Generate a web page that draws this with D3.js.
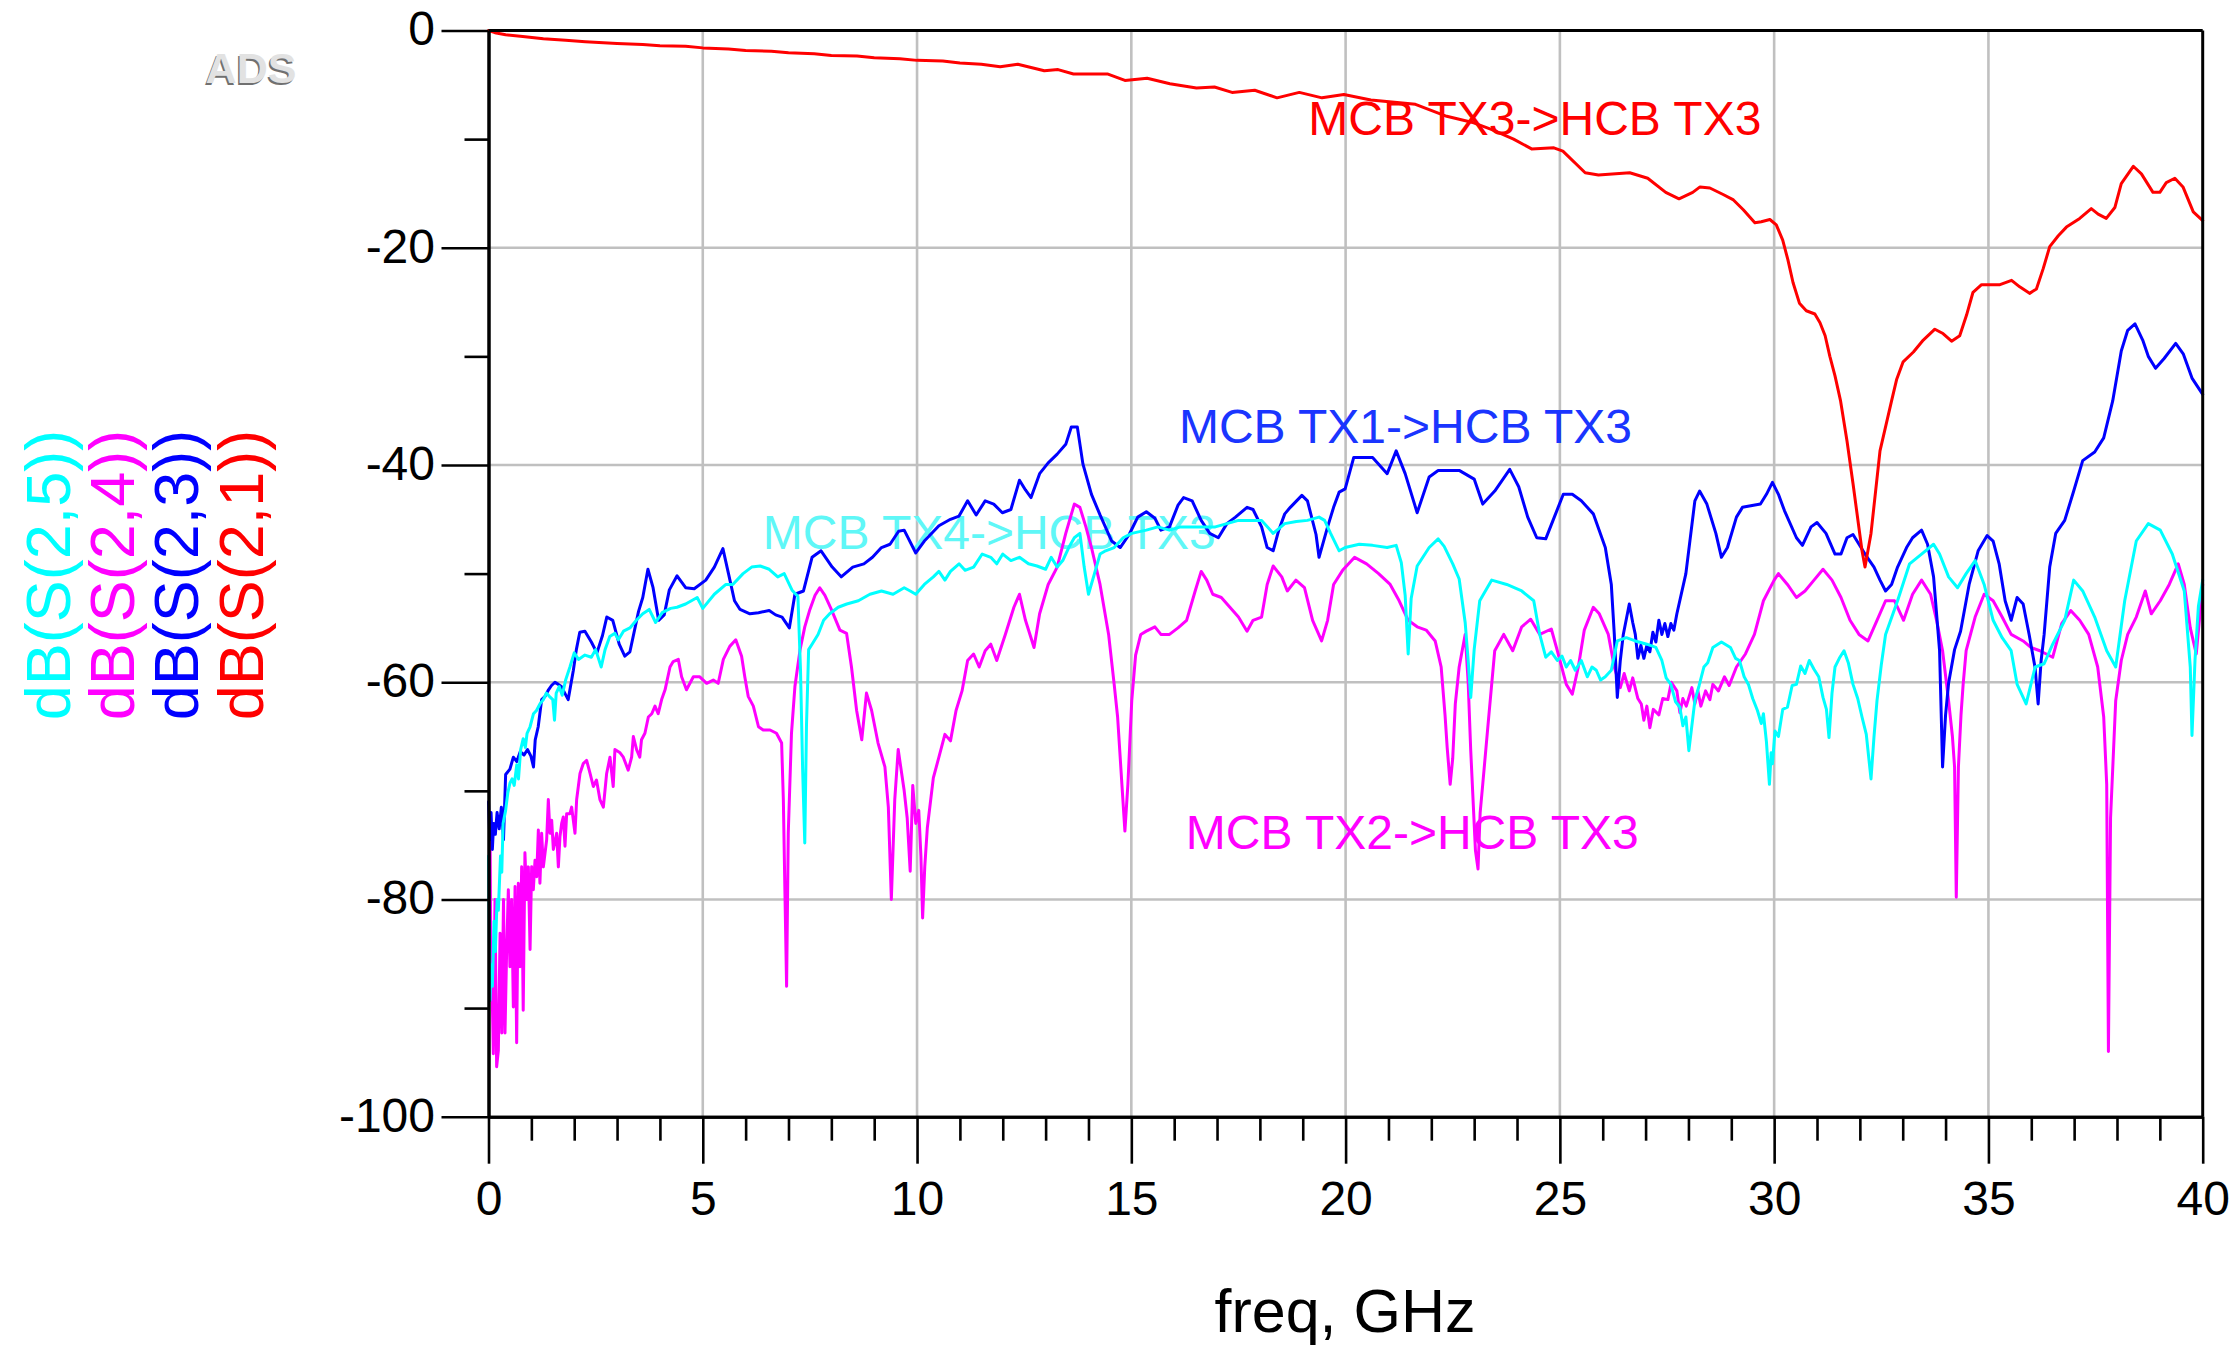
<!DOCTYPE html>
<html><head><meta charset="utf-8">
<script src="https://cdn.jsdelivr.net/npm/d3@7"></script>
<style>html,body{margin:0;padding:0;background:#fff;}svg{display:block;font-family:"Liberation Sans",Arial,sans-serif;}</style>
</head><body><svg id="chart" width="2235" height="1347"></svg>
<script>
// ---------- data ----------
const xMajorTicks = [0, 5, 10, 15, 20, 25, 30, 35, 40];
const xMinorTicks = [1,2,3,4,6,7,8,9,11,12,13,14,16,17,18,19,21,22,23,24,26,27,28,29,31,32,33,34,36,37,38,39];
const yMajorTicks = [-100, -80, -60, -40, -20, 0];
const yMinorTicks = [-90, -70, -50, -30, -10];
const xTickLabels = ["0", "5", "10", "15", "20", "25", "30", "35", "40"];
const yTickLabels = ["-100", "-80", "-60", "-40", "-20", "0"];
const xTitle = "freq, GHz";
const seriesNames = ["dB(S(2,5))", "dB(S(2,4))", "dB(S(2,3))", "dB(S(2,1))"];
const curveLabels = ["MCB TX3->HCB TX3", "MCB TX1->HCB TX3", "MCB TX4->HCB TX3", "MCB TX2->HCB TX3"];

// dB(S(2,1)) : MCB TX3->HCB TX3  [freq GHz, dB]
const s21 = [[0,0],[0.15,-0.2],[0.4,-0.4],[0.8,-0.55],[1.28,-0.75],[1.8,-0.9],[2.26,-1.03],[3,-1.2],[3.6,-1.3],[4,-1.4],[4.6,-1.45],[5,-1.6],[5.6,-1.7],[6,-1.85],[6.6,-1.9],[7,-2.05],[7.6,-2.15],[8,-2.3],[8.6,-2.35],[9,-2.5],[9.6,-2.6],[10,-2.75],[10.6,-2.8],[11,-3.0],[11.5,-3.1],[11.94,-3.33],[12.35,-3.1],[12.97,-3.7],[13.29,-3.6],[13.65,-4.0],[14.44,-4.0],[14.85,-4.6],[15.37,-4.4],[15.9,-4.9],[16.52,-5.3],[16.94,-5.2],[17.35,-5.7],[17.88,-5.5],[18.4,-6.2],[18.92,-5.7],[19.45,-6.2],[19.96,-5.9],[20.59,-6.4],[21.63,-6.8],[22.36,-7.9],[22.99,-8.5],[23.4,-9.1],[23.92,-10],[24.34,-10.9],[24.86,-10.8],[25.07,-11.1],[25.59,-13.1],[25.9,-13.3],[26.63,-13.1],[27.05,-13.6],[27.47,-14.9],[27.78,-15.5],[28.1,-14.9],[28.27,-14.4],[28.5,-14.5],[28.81,-15.1],[29.05,-15.6],[29.28,-16.5],[29.55,-17.7],[29.7,-17.6],[29.9,-17.4],[30.05,-17.9],[30.2,-19.3],[30.32,-21.1],[30.44,-23.2],[30.59,-25.1],[30.75,-25.8],[30.95,-26.1],[31.07,-26.9],[31.19,-28.1],[31.3,-30],[31.42,-31.8],[31.55,-34.1],[31.7,-37.8],[31.84,-41.7],[32.05,-47.9],[32.12,-49.4],[32.26,-46.3],[32.47,-38.7],[32.74,-34.1],[32.86,-32.1],[33.01,-30.5],[33.25,-29.6],[33.48,-28.5],[33.75,-27.5],[33.94,-27.9],[34.14,-28.6],[34.33,-28.1],[34.49,-26.2],[34.64,-24.1],[34.84,-23.4],[35.27,-23.4],[35.54,-23.0],[35.73,-23.6],[35.96,-24.2],[36.12,-23.8],[36.28,-21.9],[36.43,-19.9],[36.63,-18.9],[36.82,-18.1],[37.13,-17.3],[37.4,-16.4],[37.56,-16.9],[37.75,-17.3],[37.95,-16.3],[38.1,-14.1],[38.38,-12.5],[38.57,-13.2],[38.84,-14.9],[39.0,-14.9],[39.15,-14.0],[39.35,-13.6],[39.54,-14.4],[39.78,-16.7],[40,-17.5]];

// dB(S(2,3)) : MCB TX1->HCB TX3
const s23 = [[0,-71],[0.03,-74.5],[0.06,-72],[0.09,-75.4],[0.12,-73],[0.16,-74],[0.2,-72],[0.25,-73.5],[0.3,-71.5],[0.35,-74.5],[0.4,-68.5],[0.5,-68],[0.58,-66.9],[0.66,-67.3],[0.74,-66.4],[0.83,-66.7],[0.91,-66.2],[0.99,-66.8],[1.05,-67.8],[1.09,-65.3],[1.16,-64.1],[1.24,-61.6],[1.32,-61.3],[1.4,-60.7],[1.47,-60.3],[1.55,-60],[1.63,-60.2],[1.7,-60.4],[1.78,-61],[1.86,-61.6],[1.98,-58.9],[2.05,-57],[2.13,-55.4],[2.25,-55.3],[2.4,-56.3],[2.53,-57.3],[2.66,-55.7],[2.76,-54],[2.9,-54.3],[3.05,-56.5],[3.18,-57.6],[3.3,-57.2],[3.5,-53.5],[3.6,-52.2],[3.72,-49.6],[3.84,-51.3],[3.97,-54.3],[4.1,-53.8],[4.22,-51.5],[4.4,-50.2],[4.6,-51.3],[4.8,-51.4],[5.07,-50.6],[5.27,-49.4],[5.47,-47.7],[5.6,-50],[5.74,-52.5],[5.87,-53.3],[6.1,-53.7],[6.3,-53.6],[6.55,-53.4],[6.7,-53.8],[6.85,-54],[7.02,-55],[7.15,-51.9],[7.35,-51.6],[7.55,-48.5],[7.76,-47.9],[8.02,-49.4],[8.23,-50.3],[8.5,-49.4],[8.76,-49.1],[8.96,-48.5],[9.17,-47.6],[9.37,-47.3],[9.57,-46.1],[9.7,-46],[9.97,-48.1],[10.17,-47],[10.51,-45.6],[10.78,-45],[10.98,-44.7],[11.18,-43.3],[11.38,-44.6],[11.59,-43.3],[11.79,-43.6],[11.99,-44.4],[12.19,-44.1],[12.39,-41.4],[12.53,-42.3],[12.66,-43],[12.86,-40.8],[13.06,-39.8],[13.27,-39],[13.47,-38.1],[13.6,-36.5],[13.74,-36.5],[13.87,-39.9],[14.07,-42.7],[14.27,-44.6],[14.54,-47],[14.74,-47.6],[14.95,-46.4],[15.15,-44.8],[15.35,-44.3],[15.55,-44.9],[15.69,-46],[15.89,-45.7],[16.09,-43.7],[16.22,-43],[16.42,-43.3],[16.63,-45.1],[16.83,-46.3],[17.03,-46.7],[17.23,-45.4],[17.43,-44.8],[17.7,-43.9],[17.84,-44.1],[18.04,-45.7],[18.17,-47.6],[18.31,-47.9],[18.44,-46],[18.58,-44.5],[18.71,-43.9],[18.98,-42.8],[19.11,-43.3],[19.31,-46.4],[19.38,-48.5],[19.58,-45.7],[19.72,-43.9],[19.85,-42.5],[19.99,-42.2],[20.19,-39.3],[20.63,-39.3],[20.97,-40.8],[21.18,-38.7],[21.39,-40.8],[21.67,-44.4],[21.95,-41.1],[22.16,-40.5],[22.65,-40.5],[23.0,-41.3],[23.2,-43.6],[23.48,-42.4],[23.83,-40.4],[24.04,-42],[24.25,-44.8],[24.46,-46.7],[24.67,-46.8],[24.87,-44.8],[25.08,-42.7],[25.29,-42.7],[25.5,-43.3],[25.78,-44.5],[26.06,-47.6],[26.2,-51],[26.27,-55.6],[26.34,-61.4],[26.41,-58],[26.48,-55.6],[26.62,-52.8],[26.7,-54.5],[26.76,-55.6],[26.82,-57.8],[26.89,-56.6],[26.96,-57.8],[27.03,-56.6],[27.1,-57.2],[27.17,-55.4],[27.24,-56.3],[27.31,-54.3],[27.38,-55.6],[27.45,-54.6],[27.52,-55.8],[27.59,-54.6],[27.66,-55.2],[27.73,-53.7],[27.94,-50],[28.15,-43.3],[28.26,-42.4],[28.43,-43.6],[28.64,-46.3],[28.77,-48.5],[28.91,-47.6],[29.12,-44.8],[29.26,-43.9],[29.68,-43.6],[29.82,-42.7],[29.96,-41.6],[30.1,-42.7],[30.24,-44.2],[30.52,-46.7],[30.66,-47.4],[30.86,-45.7],[31.0,-45.3],[31.21,-46.3],[31.42,-48.2],[31.56,-48.2],[31.7,-46.7],[31.84,-46.4],[31.98,-47.3],[32.12,-48.2],[32.33,-49.4],[32.47,-50.6],[32.6,-51.6],[32.74,-51],[32.88,-49.4],[33.09,-47.6],[33.23,-46.7],[33.44,-46],[33.58,-47.3],[33.72,-50.3],[33.86,-57.1],[33.93,-67.8],[34.0,-63],[34.07,-60.1],[34.21,-57],[34.35,-55.3],[34.55,-51],[34.76,-47.9],[34.97,-46.5],[35.11,-47],[35.25,-49.1],[35.39,-52.5],[35.53,-54.3],[35.67,-52.2],[35.81,-52.8],[35.95,-55.6],[36.09,-58.7],[36.16,-62],[36.23,-58],[36.3,-55.6],[36.43,-49.4],[36.57,-46.3],[36.78,-45.1],[36.99,-42.4],[37.2,-39.6],[37.48,-38.8],[37.69,-37.5],[37.9,-34.1],[38.1,-29.5],[38.25,-27.6],[38.42,-27],[38.6,-28.5],[38.73,-30],[38.9,-31.1],[39.1,-30.2],[39.37,-28.8],[39.55,-29.8],[39.75,-32],[40,-33.5]];

// dB(S(2,4)) : MCB TX2->HCB TX3
const s24 = [[0.035,-72.4],[0.05,-83.1],[0.074,-86.2],[0.113,-94.2],[0.152,-80],[0.19,-95.4],[0.23,-93.9],[0.27,-83.1],[0.31,-92.3],[0.35,-80],[0.385,-92.3],[0.424,-84.6],[0.463,-79.1],[0.5,-86.2],[0.54,-80],[0.58,-89.9],[0.62,-78.8],[0.657,-93.2],[0.696,-78.5],[0.735,-86.2],[0.774,-77],[0.81,-90.2],[0.85,-75.7],[0.89,-80],[0.93,-77],[0.97,-84.6],[1.007,-77],[1.046,-79.1],[1.085,-76.4],[1.124,-77.9],[1.163,-73.6],[1.2,-78.5],[1.24,-73.9],[1.28,-77],[1.357,-74.5],[1.396,-70.8],[1.435,-73.9],[1.474,-72.7],[1.513,-75.4],[1.59,-73.9],[1.63,-77],[1.668,-74.2],[1.707,-73],[1.746,-72.4],[1.785,-75.1],[1.824,-72.1],[1.9,-72.1],[1.94,-71.5],[2.018,-73.9],[2.057,-70.8],[2.135,-68.4],[2.21,-67.5],[2.29,-67.2],[2.37,-68.4],[2.446,-69.6],[2.52,-69],[2.6,-70.8],[2.68,-71.5],[2.757,-68.4],[2.835,-66.9],[2.91,-69.6],[2.95,-66.2],[3.07,-66.5],[3.146,-66.9],[3.26,-68.1],[3.34,-66.9],[3.38,-65],[3.456,-66.2],[3.53,-66.9],[3.57,-65.3],[3.65,-64.7],[3.73,-63.2],[3.81,-62.9],[3.885,-62.2],[3.96,-62.9],[4.04,-61.6],[4.12,-60.7],[4.235,-58.6],[4.31,-58.1],[4.43,-57.9],[4.506,-59.5],[4.62,-60.7],[4.78,-59.5],[4.93,-59.5],[5.09,-60.1],[5.245,-59.8],[5.36,-60.1],[5.48,-57.9],[5.63,-56.7],[5.77,-56.1],[5.906,-57.6],[5.98,-59.5],[6.06,-61.3],[6.18,-62.2],[6.3,-64.1],[6.41,-64.4],[6.57,-64.4],[6.72,-64.7],[6.84,-65.6],[6.88,-70.8],[6.92,-80],[6.956,-88],[6.995,-73.9],[7.07,-64.7],[7.15,-60.4],[7.27,-57],[7.38,-54.9],[7.5,-53.3],[7.62,-52],[7.73,-51.3],[7.85,-52],[8.0,-53.3],[8.2,-55.2],[8.355,-55.5],[8.47,-58.6],[8.59,-62.6],[8.71,-65.3],[8.82,-61],[8.94,-62.6],[9.09,-65.6],[9.25,-67.8],[9.33,-71.5],[9.4,-80],[9.48,-70.8],[9.56,-66.2],[9.7,-70],[9.77,-72.5],[9.84,-77.4],[9.9,-69.5],[9.97,-73],[10.04,-71.8],[10.09,-76],[10.13,-81.7],[10.18,-77],[10.24,-73.4],[10.38,-68.8],[10.51,-66.9],[10.65,-64.8],[10.78,-65.4],[10.91,-62.6],[11.05,-60.8],[11.18,-58],[11.32,-57.4],[11.45,-58.6],[11.59,-57.1],[11.72,-56.5],[11.86,-58],[12.06,-55.6],[12.26,-53.1],[12.39,-51.9],[12.53,-54.3],[12.73,-56.8],[12.86,-53.7],[13.06,-51],[13.27,-49.4],[13.47,-46.3],[13.67,-43.6],[13.8,-43.9],[13.94,-45.7],[14.07,-47.6],[14.27,-51],[14.47,-55.6],[14.6,-60.2],[14.68,-63.2],[14.78,-69.4],[14.85,-73.7],[14.92,-69.4],[15.01,-61.7],[15.1,-57.5],[15.22,-55.6],[15.35,-55.3],[15.55,-54.9],[15.69,-55.6],[15.89,-55.6],[16.09,-55],[16.29,-54.3],[16.49,-51.6],[16.63,-49.8],[16.76,-50.6],[16.9,-51.9],[17.1,-52.2],[17.3,-53.1],[17.5,-54],[17.7,-55.3],[17.84,-54.3],[18.04,-54],[18.17,-51],[18.31,-49.3],[18.51,-50.3],[18.64,-51.6],[18.84,-50.6],[19.04,-51.3],[19.23,-54.3],[19.44,-56.2],[19.58,-54.3],[19.72,-51],[19.93,-49.7],[20.21,-48.5],[20.49,-49.1],[20.77,-50],[21.04,-51],[21.25,-52.5],[21.46,-54.3],[21.67,-54.9],[21.88,-55.2],[22.09,-56.2],[22.23,-58.6],[22.32,-63],[22.37,-66],[22.44,-69.4],[22.5,-67],[22.56,-62],[22.65,-58.6],[22.79,-55.6],[22.86,-60],[22.92,-66.3],[23.03,-75.5],[23.09,-77.2],[23.14,-72],[23.2,-69.4],[23.34,-63.2],[23.48,-57.1],[23.69,-55.6],[23.9,-57.1],[24.11,-54.9],[24.32,-54.2],[24.53,-55.6],[24.8,-55.1],[24.94,-57.1],[25.15,-60.2],[25.29,-61.1],[25.43,-58.6],[25.57,-55.2],[25.78,-53.1],[25.92,-53.7],[26.13,-55.6],[26.27,-58.6],[26.41,-60.5],[26.5,-59.2],[26.62,-60.8],[26.7,-59.6],[26.82,-61.5],[26.9,-62],[26.96,-63.5],[27.03,-62.2],[27.1,-64.2],[27.18,-62.5],[27.31,-63],[27.4,-61.5],[27.52,-61.6],[27.6,-60],[27.73,-60.8],[27.8,-62.8],[27.87,-61.5],[27.95,-62.2],[28.08,-60.5],[28.15,-62],[28.22,-60.8],[28.29,-62.2],[28.4,-60.8],[28.5,-61.6],[28.57,-60.2],[28.7,-60.8],[28.84,-59.5],[28.95,-60.3],[29.12,-58.6],[29.33,-57.4],[29.54,-55.6],[29.75,-52.5],[30.0,-50.6],[30.1,-50],[30.31,-51],[30.52,-52.2],[30.72,-51.6],[30.93,-50.6],[31.14,-49.6],[31.35,-50.6],[31.56,-52.2],[31.77,-54.3],[31.98,-55.6],[32.19,-56.2],[32.4,-54.3],[32.6,-52.5],[32.81,-52.5],[33.02,-54.3],[33.23,-51.9],[33.44,-50.6],[33.65,-51.9],[33.79,-54.3],[33.93,-57.1],[34.07,-61.7],[34.16,-65],[34.21,-67.8],[34.25,-79.8],[34.3,-67.8],[34.36,-63],[34.41,-60.2],[34.48,-57.1],[34.69,-54],[34.9,-51.9],[35.11,-52.5],[35.32,-54],[35.53,-55.6],[35.81,-56.2],[35.99,-56.8],[36.2,-57.1],[36.5,-57.7],[36.71,-54.6],[36.92,-53.4],[37.13,-54.3],[37.34,-55.6],[37.55,-58.6],[37.69,-63.2],[37.76,-69.4],[37.8,-94],[37.85,-72.5],[37.97,-61.7],[38.1,-58],[38.25,-55.6],[38.45,-54],[38.66,-51.6],[38.8,-53.7],[39.01,-52.5],[39.22,-51],[39.43,-49.1],[39.57,-51],[39.71,-55],[39.85,-57.4],[40,-51]];

// dB(S(2,5)) : MCB TX4->HCB TX3
const s25 = [[0,-76],[0.02,-84],[0.035,-89.3],[0.06,-86],[0.09,-88],[0.13,-82],[0.16,-84.8],[0.2,-80],[0.23,-81],[0.28,-76],[0.31,-77.5],[0.34,-73],[0.4,-71.8],[0.45,-70.2],[0.5,-69.3],[0.55,-68.9],[0.6,-69.5],[0.66,-67.6],[0.7,-68.9],[0.75,-66.2],[0.81,-65.2],[0.86,-66],[0.9,-64.7],[0.97,-64.1],[1.05,-62.9],[1.12,-62.6],[1.2,-62],[1.28,-61.6],[1.35,-61],[1.42,-61.3],[1.5,-61.6],[1.54,-63.5],[1.58,-61],[1.65,-60.4],[1.72,-61.2],[1.8,-59.8],[1.9,-58.6],[2.0,-57.3],[2.1,-57.9],[2.25,-57.5],[2.4,-57.7],[2.5,-57],[2.63,-58.6],[2.72,-57],[2.83,-55.8],[2.95,-55.5],[3.03,-56.1],[3.15,-55.3],[3.3,-55],[3.45,-54.3],[3.6,-53.7],[3.75,-53.3],[3.9,-54.5],[4.05,-53.6],[4.25,-53.2],[4.4,-53.1],[4.6,-52.8],[4.87,-52.2],[5.0,-53.2],[5.27,-51.9],[5.54,-51],[5.7,-51],[5.94,-50],[6.14,-49.4],[6.34,-49.3],[6.55,-49.6],[6.75,-50.3],[6.9,-50],[7.08,-51.5],[7.22,-52.1],[7.28,-58.8],[7.33,-68],[7.38,-74.8],[7.42,-64],[7.47,-57],[7.55,-56.5],[7.69,-55.6],[7.82,-54.3],[7.96,-53.7],[8.16,-53.1],[8.36,-52.8],[8.63,-52.5],[8.9,-51.9],[9.17,-51.6],[9.44,-51.9],[9.7,-51.3],[9.84,-51.6],[9.97,-51.9],[10.17,-51],[10.38,-50.3],[10.51,-49.8],[10.65,-50.6],[10.78,-49.8],[10.98,-49.1],[11.12,-49.7],[11.32,-49.4],[11.52,-48.2],[11.72,-48.5],[11.86,-49.1],[12.0,-48.2],[12.19,-48.8],[12.39,-48.5],[12.6,-49.1],[12.8,-49.3],[13.0,-49.6],[13.13,-48.5],[13.27,-49.4],[13.4,-48.8],[13.54,-47.6],[13.67,-46.7],[13.8,-46.3],[13.9,-49.4],[14.0,-51.9],[14.14,-50],[14.27,-48.2],[14.4,-47.9],[14.6,-47.6],[14.81,-46.7],[15.01,-46.3],[15.35,-46],[15.62,-45.7],[15.89,-46],[16.15,-45.7],[16.42,-45.7],[16.7,-45.7],[16.96,-45.7],[17.23,-45.4],[17.5,-45.1],[17.77,-45.1],[18.04,-45.1],[18.31,-46.3],[18.58,-45.4],[18.85,-45.2],[19.11,-45.1],[19.38,-44.8],[19.51,-45.1],[19.65,-46.3],[19.85,-47.9],[19.99,-47.6],[20.32,-47.3],[20.63,-47.4],[20.97,-47.6],[21.18,-47.4],[21.3,-49],[21.39,-52],[21.46,-57.4],[21.53,-52.3],[21.67,-49.3],[21.95,-47.6],[22.16,-46.8],[22.3,-47.5],[22.5,-49.1],[22.65,-50.5],[22.79,-54.5],[22.86,-58],[22.92,-61.4],[23.0,-57],[23.13,-52.5],[23.41,-50.6],[23.76,-51],[24.11,-51.6],[24.39,-52.5],[24.53,-55.6],[24.67,-57.7],[24.8,-57.2],[24.94,-58],[25.05,-57.6],[25.15,-58.6],[25.25,-58],[25.36,-58.9],[25.5,-58],[25.64,-59.5],[25.75,-58.6],[25.85,-58.9],[25.95,-59.8],[26.06,-59.5],[26.2,-58.9],[26.34,-56.2],[26.55,-55.9],[26.76,-56.2],[27.03,-56.5],[27.24,-56.8],[27.38,-58],[27.48,-59.6],[27.59,-60.2],[27.7,-61.8],[27.8,-62.3],[27.87,-64],[27.94,-63.2],[28.01,-66.3],[28.08,-64],[28.15,-61.7],[28.25,-60.3],[28.36,-58.6],[28.45,-58.2],[28.57,-56.8],[28.77,-56.3],[28.98,-56.8],[29.1,-57.8],[29.19,-58],[29.3,-59.5],[29.4,-60.2],[29.5,-61.5],[29.61,-62.6],[29.7,-63.8],[29.75,-62.9],[29.82,-65.5],[29.89,-69.4],[29.93,-66.5],[29.96,-67.5],[30.02,-64.5],[30.1,-65],[30.2,-62.5],[30.31,-62.3],[30.42,-60.3],[30.52,-60.2],[30.62,-58.5],[30.72,-59.2],[30.82,-58],[30.93,-58.8],[31.04,-59.5],[31.14,-61.4],[31.22,-62.5],[31.28,-65.1],[31.35,-61],[31.42,-58.6],[31.52,-57.8],[31.63,-57.1],[31.73,-58.2],[31.84,-60.2],[31.95,-61.5],[32.05,-63.2],[32.15,-64.8],[32.26,-68.9],[32.33,-65],[32.4,-61.7],[32.5,-58.4],[32.6,-55.6],[32.88,-52.5],[33.16,-49.1],[33.44,-48.2],[33.72,-47.3],[33.86,-48.2],[34.07,-50.3],[34.28,-51.3],[34.48,-50],[34.69,-48.8],[34.9,-51],[35.11,-54.3],[35.32,-55.9],[35.53,-57.1],[35.67,-60.2],[35.88,-62],[36.09,-58.6],[36.3,-58.3],[36.5,-56.5],[36.78,-54.3],[36.99,-50.6],[37.2,-51.6],[37.48,-54],[37.76,-57.1],[37.97,-58.6],[38.18,-52.5],[38.45,-47],[38.73,-45.4],[39.01,-46],[39.29,-48.2],[39.57,-51.6],[39.71,-58.6],[39.75,-64.9],[39.82,-58],[39.9,-53],[40,-50.6]];

// ---------- drawing ----------
const W = 2235, H = 1347;
const svg = d3.select("#chart");
svg.append("rect").attr("width", W).attr("height", H).attr("fill", "#fff");

const x = d3.scaleLinear().domain([0, 40]).range([488.5, 2202.7]);
const y = d3.scaleLinear().domain([-100, 0]).range([1116.7, 30.5]);

const colors = { s25: "#00ffff", s24: "#ff00ff", s23: "#0000ff", s21: "#ff0000" };
const gridColor = "#c0c0c0";

// grid
const grid = svg.append("g");
grid.selectAll(".vg").data(xMajorTicks.filter(d => d > 0 && d < 40)).join("line")
  .attr("x1", d => x(d)).attr("x2", d => x(d)).attr("y1", y(0)).attr("y2", y(-100))
  .attr("stroke", gridColor).attr("stroke-width", 2.6);
grid.selectAll(".hg").data(yMajorTicks.filter(d => d > -100 && d < 0)).join("line")
  .attr("x1", x(0)).attr("x2", x(40)).attr("y1", d => y(d)).attr("y2", d => y(d))
  .attr("stroke", gridColor).attr("stroke-width", 2.6);

// curve labels (under curves)
const labelSpecs = [
  { text: curveLabels[0], fx: 19.13, db: -9.6, color: "#ff0000" },
  { text: curveLabels[1], fx: 16.11, db: -38.0, color: "#1a35ff" },
  { text: curveLabels[2], fx: 6.4, db: -47.75, color: "#5ff7f7" },
  { text: curveLabels[3], fx: 16.27, db: -75.35, color: "#ff00ff" }
];
svg.append("g").selectAll("text").data(labelSpecs).join("text")
  .attr("x", d => x(d.fx)).attr("y", d => y(d.db))
  .attr("font-size", 48).attr("fill", d => d.color).text(d => d.text);

// curves
const line = d3.line().x(d => x(d[0])).y(d => y(d[1]));
const curves = svg.append("g").attr("fill", "none").attr("stroke-width", 3)
  .attr("stroke-linejoin", "round").attr("stroke-linecap", "round");
[[s24, colors.s24], [s23, colors.s23], [s25, colors.s25], [s21, colors.s21]].forEach(([data, c]) => {
  curves.append("path").datum(data).attr("d", line).attr("stroke", c);
});

// frame: top and right
svg.append("line").attr("x1", x(0)).attr("x2", x(40)).attr("y1", y(0)).attr("y2", y(0))
  .attr("stroke", "#000").attr("stroke-width", 3);
svg.append("line").attr("x1", x(40)).attr("x2", x(40)).attr("y1", y(0)).attr("y2", y(-100))
  .attr("stroke", "#000").attr("stroke-width", 3);

// axes
const fontFam = '"Liberation Sans", Arial, sans-serif';
const xAxisMinor = d3.axisBottom(x).tickValues(xMinorTicks).tickSize(24).tickSizeOuter(0).tickFormat("");
const xAxisMajor = d3.axisBottom(x).tickValues(xMajorTicks).tickSize(47).tickSizeOuter(0)
  .tickFormat((d, i) => xTickLabels[i]);
const yAxisMinor = d3.axisLeft(y).tickValues(yMinorTicks).tickSize(24).tickSizeOuter(0).tickFormat("");
const yAxisMajor = d3.axisLeft(y).tickValues(yMajorTicks).tickSize(47).tickSizeOuter(0)
  .tickFormat((d, i) => yTickLabels[i]);

function styleAxis(g) {
  g.select(".domain").attr("stroke", "#000").attr("stroke-width", 3);
  g.selectAll(".tick line").attr("stroke", "#000").attr("stroke-width", 2.6);
  g.selectAll(".tick text").attr("fill", "#000").attr("font-size", 48).attr("font-family", fontFam);
}
const gxm = svg.append("g").attr("transform", `translate(0,${y(-100)})`).call(xAxisMinor); styleAxis(gxm);
const gx = svg.append("g").attr("transform", `translate(0,${y(-100)})`).call(xAxisMajor); styleAxis(gx);
gx.selectAll(".tick text").attr("y", 98.5).attr("dy", 0);
const gym = svg.append("g").attr("transform", `translate(${x(0)},0)`).call(yAxisMinor); styleAxis(gym);
const gy = svg.append("g").attr("transform", `translate(${x(0)},0)`).call(yAxisMajor); styleAxis(gy);
gy.selectAll(".tick text").attr("x", -53.5).attr("dy", "0.3em");

// x-axis title
svg.append("text").attr("x", 1345).attr("y", 1331.5).attr("text-anchor", "middle")
  .attr("font-size", 61).attr("fill", "#000").text(xTitle);

// rotated series legend
const legendSpecs = [
  { text: seriesNames[0], bx: 70, color: colors.s25 },
  { text: seriesNames[1], bx: 134, color: colors.s24 },
  { text: seriesNames[2], bx: 198, color: colors.s23 },
  { text: seriesNames[3], bx: 263, color: colors.s21 }
];
svg.append("g").selectAll("text").data(legendSpecs).join("text")
  .attr("transform", d => `translate(${d.bx},575) rotate(-90)`)
  .attr("text-anchor", "middle").attr("font-size", 63).attr("fill", d => d.color).text(d => d.text);

// ADS watermark
const ads = svg.append("g").attr("font-weight", "bold").attr("font-size", 43).attr("text-anchor", "middle");
ads.append("text").attr("x", 249.5).attr("y", 84.5).attr("fill", "#707070").text("ADS");
ads.append("text").attr("x", 251).attr("y", 83).attr("fill", "#e2e2e2").text("ADS");
</script></body></html>
